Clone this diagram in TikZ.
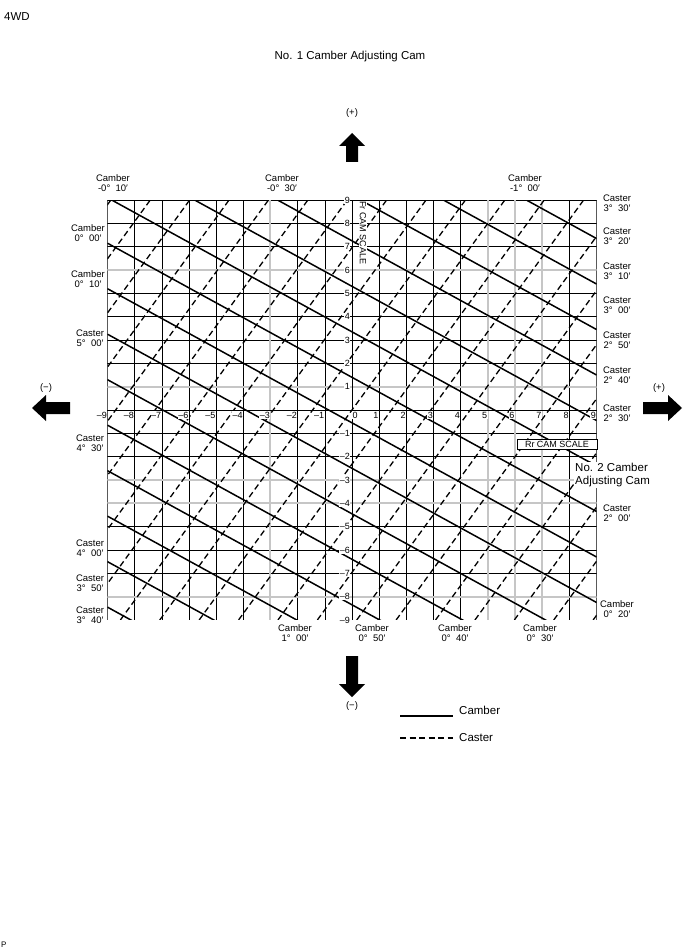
\documentclass[tikz,border=0pt]{standalone}
\usepackage{fontspec}
\setmainfont{Liberation Sans}
\begin{document}
\begin{tikzpicture}[x=1pt,y=-1pt,
  lbl/.style={font=\fontsize{9.5}{10}\selectfont,align=center,inner sep=0pt},
  big/.style={font=\fontsize{11.5}{13}\selectfont,inner sep=0pt},
  num/.style={font=\fontsize{9}{9}\selectfont,inner sep=0.5pt,fill=white},
  cam/.style={line width=1.5pt},
  cas/.style={line width=1.3pt,dash pattern=on 6pt off 3.5pt},
  arr/.style={fill=black}]
\useasboundingbox (0,0) rectangle (690,952);
\node[big,anchor=west] (t4) at (4,17) {4WD};
\node[big] (title) at (350,57) {No. 1 Camber Adjusting Cam};
\node[font=\fontsize{8}{8}\selectfont,anchor=west,inner sep=0pt] (p) at (1,945) {P};
% grid
\begin{scope}[shift={(352,410)},x=27.17pt,y=23.33pt]
 \begin{scope}
 \clip (-9,-9) rectangle (9,9);
 \foreach \g in {-9,...,9} {\draw[line width=0.5pt] (\g,-9)--(\g,9); \draw[line width=0.5pt] (-9,\g)--(9,\g);}
 \foreach \g in {-3,5,6,7} \draw[gray!45,line width=2pt] (\g,-9)--(\g,9);
 \foreach \g in {6,1,-3,-4,-8} \draw[gray!45,line width=2pt] (-9,\g)--(9,\g);
 \foreach \k in {-6,...,14} \draw[cam] (-9,{9-1.95*\k+0.1}) -- (9,{9-1.95*\k+0.1-11.5});
 \foreach \k in {-3,...,19} \draw[cas] ({-11.6+1.45*\k-5.625},-9) -- ({-11.6+1.45*\k+5.625},9);
 \end{scope}
 \draw[line width=1pt] (-9,0)--(9,0) (0,-9)--(0,9);
 \foreach \i in {-9,...,-1} \node[num,anchor=north east] (xn\i) at (\i,-0.05) {-\i};
 \node[num,anchor=north west] (x0) at (0,-0.05) {0};
 \foreach \i in {1,...,9} \node[num,anchor=north east] (xp\i) at (\i,-0.05) {\i};
 \foreach \i in {1,...,9} \node[num,anchor=east] (yp\i) at (-0.05,\i) {\i};
 \foreach \i in {-9,...,-1} \node[num,anchor=east] (yn\i) at (-0.05,\i) {-\i};
 \node[num,anchor=north,rotate=-90] (fr) at (0.55,7.6) {Fr CAM SCALE};
\end{scope}
\node[draw,fill=white,font=\fontsize{9}{9}\selectfont,inner sep=2pt,minimum width=80pt] (rr) at (557,444) {Rr CAM SCALE};
% labels
\node[lbl] (c1) at (113,183) {Camber\\-0° \ 10′};
\node[lbl] (c2) at (282,183) {Camber\\-0° \ 30′};
\node[lbl] (c3) at (525,183) {Camber\\-1° \ 00′};
\node[lbl] (l1) at (88,233) {Camber\\0° \ 00′};
\node[lbl] (l2) at (88,279) {Camber\\0° \ 10′};
\node[lbl] (l3) at (90,338) {Caster\\5° \ 00′};
\node[lbl] (l4) at (90,443) {Caster\\4° \ 30′};
\node[lbl] (l5) at (90,548) {Caster\\4° \ 00′};
\node[lbl] (l6) at (90,583) {Caster\\3° \ 50′};
\node[lbl] (l7) at (90,615) {Caster\\3° \ 40′};
\node[lbl] (r1) at (617,203) {Caster\\3° \ 30′};
\node[lbl] (r2) at (617,236) {Caster\\3° \ 20′};
\node[lbl] (r3) at (617,271) {Caster\\3° \ 10′};
\node[lbl] (r4) at (617,305) {Caster\\3° \ 00′};
\node[lbl] (r5) at (617,340) {Caster\\2° \ 50′};
\node[lbl] (r6) at (617,375) {Caster\\2° \ 40′};
\node[lbl] (r7) at (617,413) {Caster\\2° \ 30′};
\node[big,align=left,anchor=west,fill=white,inner sep=1pt] (no2) at (574,475) {No. 2 Camber\\Adjusting Cam};
\node[lbl] (r8) at (617,513) {Caster\\2° \ 00′};
\node[lbl] (r9) at (617,609) {Camber\\0° \ 20′};
\node[lbl] (b1) at (295,633) {Camber\\1° \ 00′};
\node[lbl] (b2) at (372,633) {Camber\\0° \ 50′};
\node[lbl] (b3) at (455,633) {Camber\\0° \ 40′};
\node[lbl] (b4) at (540,633) {Camber\\0° \ 30′};
% arrows
\fill[arr] (352,133)--(365,146)--(358,146)--(358,162)--(346,162)--(346,146)--(339,146)--cycle;
\fill[arr] (352,697)--(365,684)--(358,684)--(358,656)--(346,656)--(346,684)--(339,684)--cycle;
\fill[arr] (32,408)--(46,395)--(46,402)--(70,402)--(70,414)--(46,414)--(46,421)--cycle;
\fill[arr] (682,408)--(668,395)--(668,402)--(643,402)--(643,414)--(668,414)--(668,421)--cycle;
\node[lbl] (pu) at (352,113) {(+)};
\node[lbl] (md) at (352,706) {(−)};
\node[lbl] (ml) at (46,388) {(−)};
\node[lbl] (pr) at (659,388) {(+)};
% legend
\coordinate (a1) at (400,716); \coordinate (a2) at (453,716);
\coordinate (d1) at (400,738); \coordinate (d2) at (453,738);
\draw[cam] (a1)--(a2); \draw[cas] (d1)--(d2);
\node[big,anchor=west] (lc) at (459,710) {Camber};
\node[big,anchor=west] (lk) at (459,738) {Caster};
\end{tikzpicture}
\end{document}
